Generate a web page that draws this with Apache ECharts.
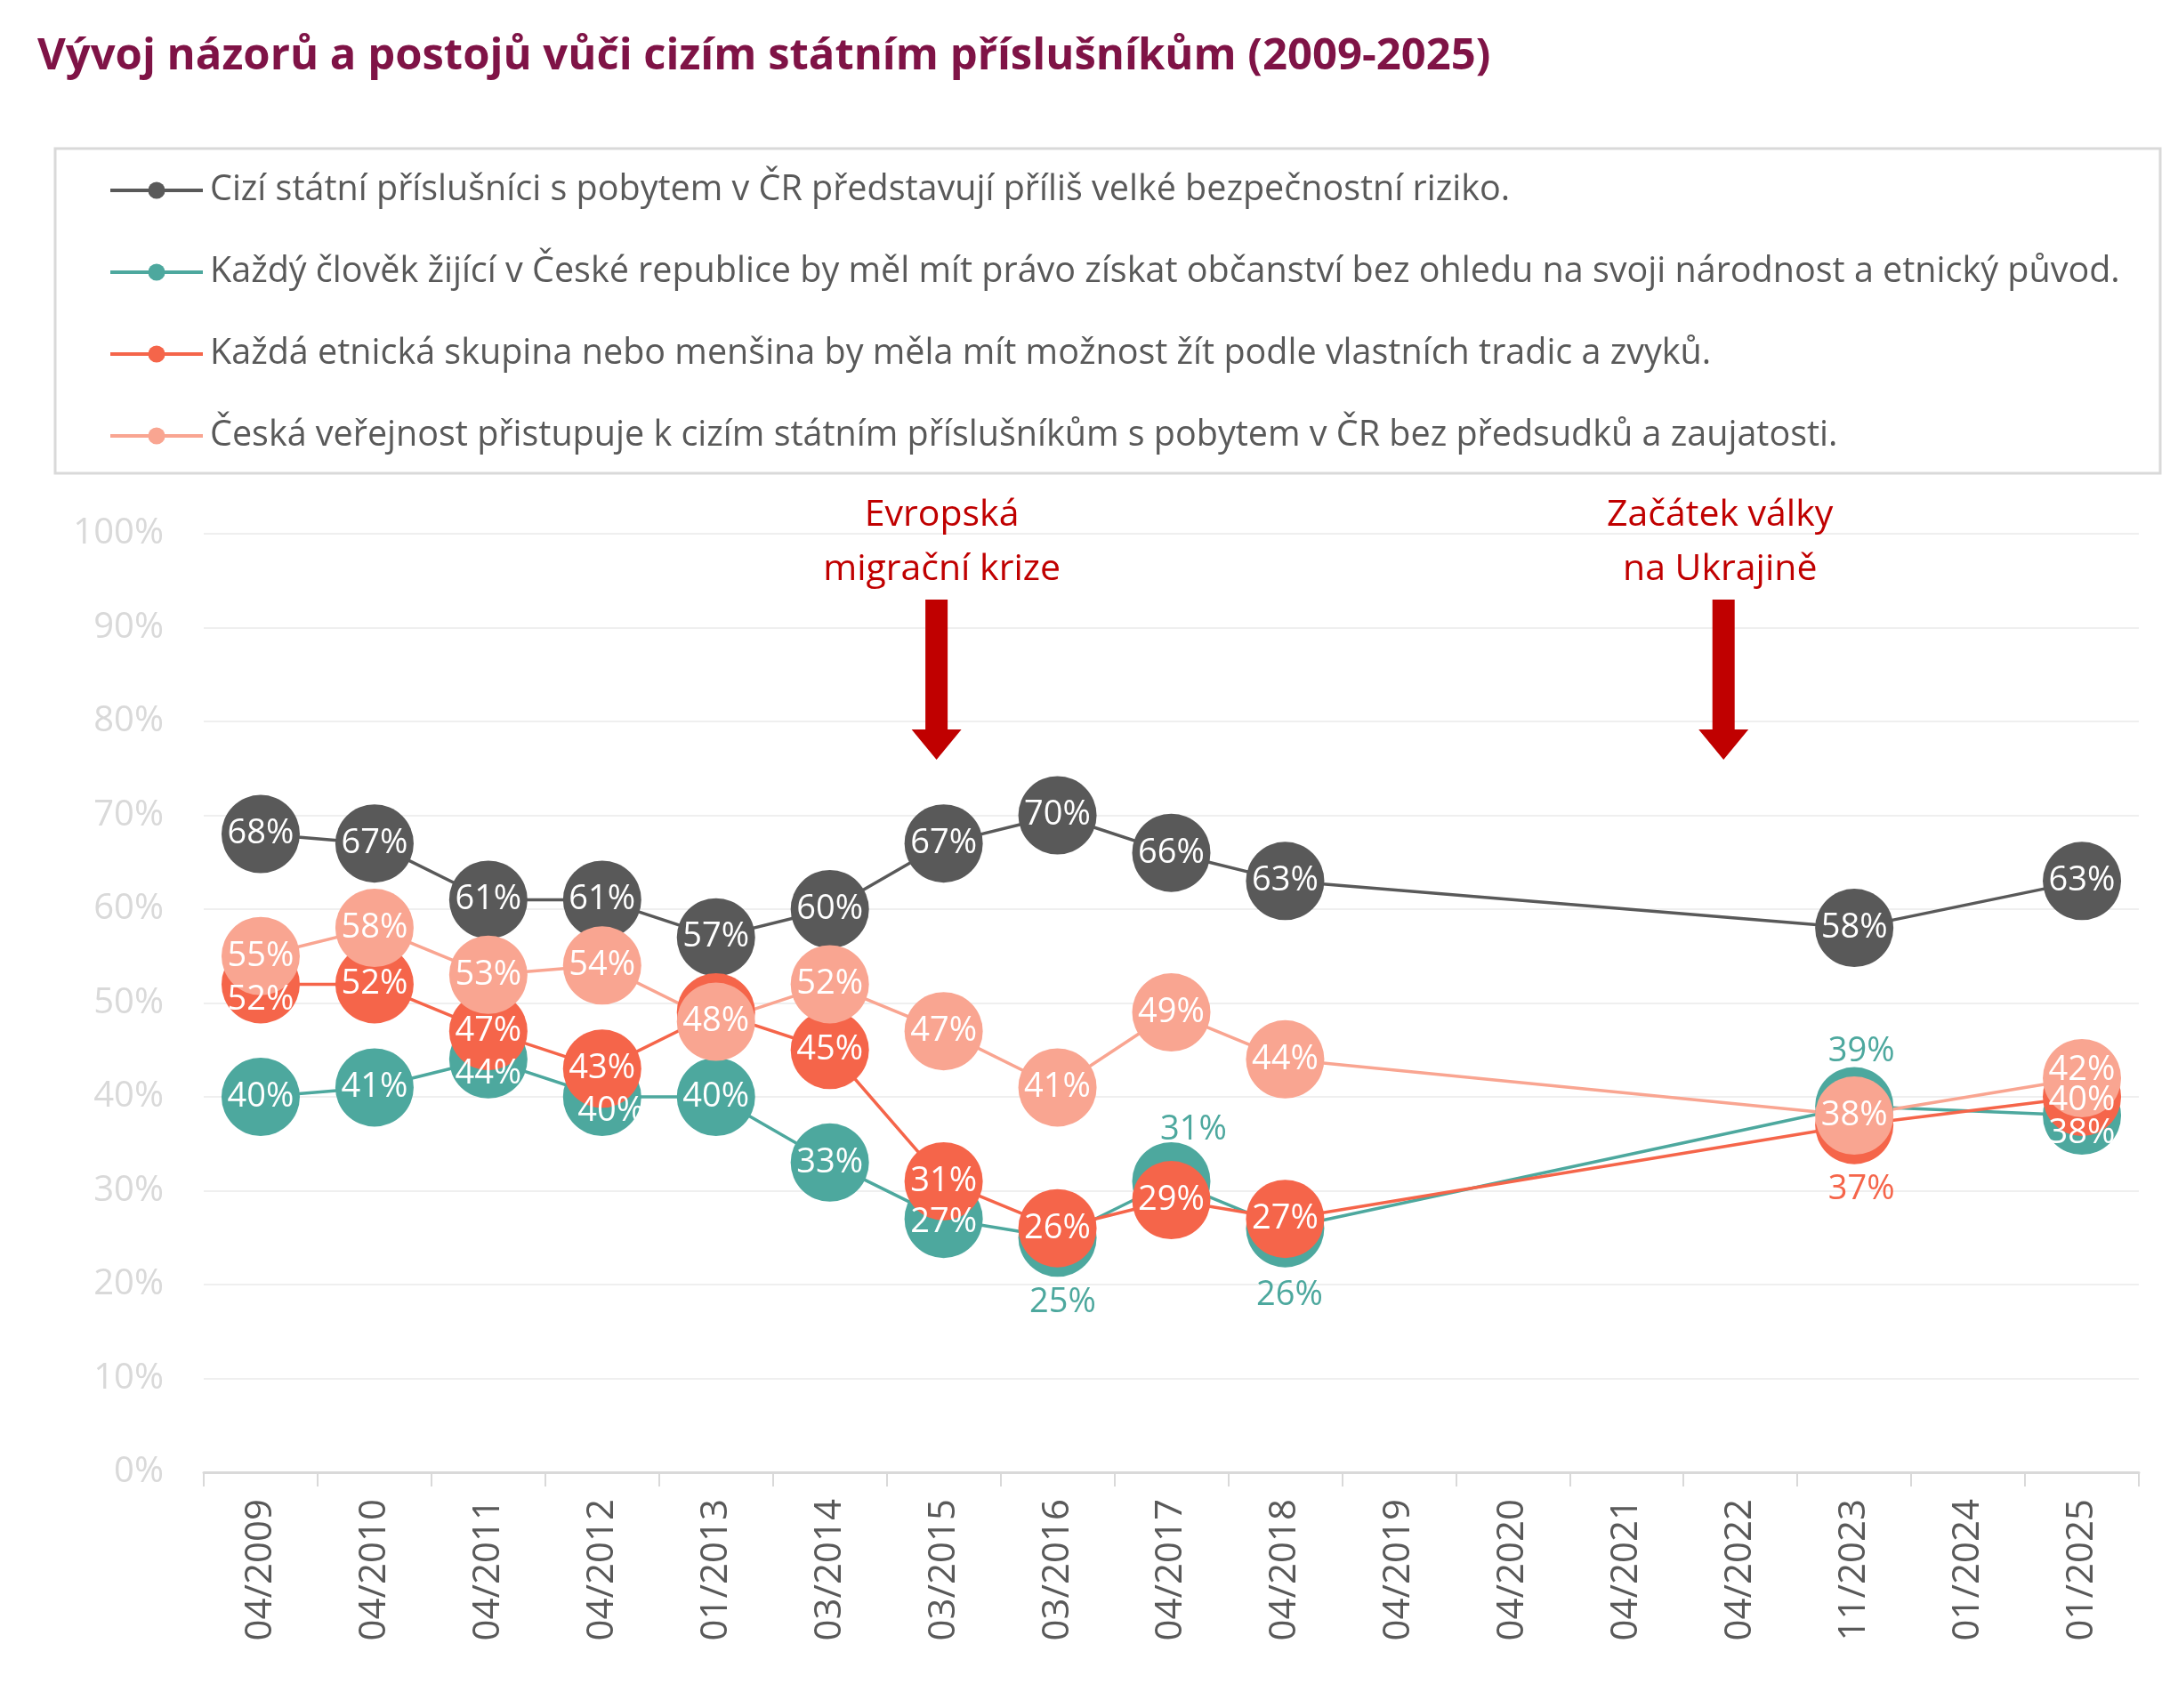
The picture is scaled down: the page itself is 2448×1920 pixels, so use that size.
<!DOCTYPE html>
<html><head><meta charset="utf-8">
<script src="https://cdn.jsdelivr.net/npm/echarts@6/dist/echarts.min.js"></script>
<style>html,body{margin:0;padding:0;background:#fff}#c{width:2448px;height:1920px}</style>
</head><body><div id="c"></div>
<script>
const titleText = 'Vývoj názorů a postojů vůči cizím státním příslušníkům (2009-2025)';
const categories = ['04/2009','04/2010','04/2011','04/2012','01/2013','03/2014','03/2015','03/2016','04/2017','04/2018','04/2019','04/2020','04/2021','04/2022','11/2023','01/2024','01/2025'];
const seriesNames = [
  'Cizí státní příslušníci s pobytem v ČR představují příliš velké bezpečnostní riziko.',
  'Každý člověk žijící v České republice by měl mít právo získat občanství bez ohledu na svoji národnost a etnický původ.',
  'Každá etnická skupina nebo menšina by měla mít možnost žít podle vlastních tradic a zvyků.',
  'Česká veřejnost přistupuje k cizím státním příslušníkům s pobytem v ČR bez předsudků a zaujatosti.'
];
const riziko       = [68,67,61,61,57,60,67,70,66,63,null,null,null,null,58,null,63];
const obcanstvi    = [40,41,44,40,40,33,27,25,31,26,null,null,null,null,39,null,38];
const tradice      = [52,52,47,43,49,45,31,26,29,27,null,null,null,null,37,null,40];
const bezPredsudku = [55,58,53,54,48,52,47,41,49,44,null,null,null,null,38,null,42];
const yTicks = [0,10,20,30,40,50,60,70,80,90,100];
const annotations = [
  {category:'03/2015', lines:['Evropská','migrační krize']},
  {category:'04/2022', lines:['Začátek války','na Ukrajině']}
];

const colors = ['#595959','#4DA89E','#F5654A','#F9A591'];
const FONT = 'Open Sans';

// label adjustments (styling only)
const labelTweaks = {
  1: {2:{offset:[0,16]}, 3:{offset:[10,16]}, 6:{offset:[0,4]},
      7:{offset:[6,73], color:colors[1]}, 8:{offset:[25,-58], color:colors[1]},
      9:{offset:[5,75], color:colors[1]}, 14:{offset:[8,-61], color:colors[1]}, 16:{offset:[0,20]}},
  2: {0:{offset:[0,18]}, 4:{show:false}, 14:{offset:[8,73], color:colors[2]}, 16:{offset:[0,4]}},
  3: {16:{offset:[0,-9]}}
};

const allValues = [riziko, obcanstvi, tradice, bezPredsudku];

const series = allValues.map((vals, si) => ({
  name: seriesNames[si],
  type: 'line',
  connectNulls: true,
  symbol: 'circle',
  symbolSize: 88,
  color: colors[si],
  lineStyle: {width: 3.5, color: colors[si]},
  itemStyle: {color: colors[si]},
  emphasis: {disabled: true},
  label: {
    show: true, position: 'inside', color: '#fff', fontFamily: FONT, fontSize: 38,
    formatter: p => p.value + '%'
  },
  data: vals.map((v, i) => {
    const t = (labelTweaks[si] || {})[i];
    if (v === null) return null;
    if (!t) return v;
    return {value: v, label: Object.assign({}, t)};
  })
}));

const chart = echarts.init(document.getElementById('c'), null, {renderer: 'canvas'});
chart.setOption({
  animation: false,
  backgroundColor: '#fff',
  title: {
    text: titleText, left: 37, top: 28,
    textStyle: {fontFamily: FONT, fontWeight: 'bold', fontSize: 49, color: '#7F1346', lineHeight: 62}
  },
  legend: {
    orient: 'vertical', left: 122, top: 192, padding: 0,
    itemWidth: 104, itemHeight: 24, itemGap: 48,
    data: seriesNames,
    lineStyle: {width: 4},
    textStyle: {fontFamily: FONT, fontSize: 39.5, color: '#595959', lineHeight: 44, padding: [0,0,0,3]},
    selectedMode: false
  },
  grid: {left: 229, right: 44, top: 600, bottom: 265, containLabel: false},
  xAxis: {
    type: 'category', data: categories, boundaryGap: true,
    axisLine: {show: true, lineStyle: {color: '#D9D9D9', width: 3}},
    axisTick: {show: true, length: 16, lineStyle: {color: '#D9D9D9', width: 2}},
    axisLabel: {rotate: 90, margin: 30, fontFamily: FONT, fontSize: 42, color: '#595959', interval: 0}
  },
  yAxis: {
    type: 'value', min: yTicks[0], max: yTicks[yTicks.length-1], interval: yTicks[1]-yTicks[0],
    axisLine: {show: false}, axisTick: {show: false},
    splitLine: {lineStyle: {color: '#EFEFEF', width: 2}},
    axisLabel: {margin: 45, fontFamily: FONT, fontSize: 40, color: '#D9D9D9', formatter: '{value}%'}
  },
  series: series
});

// annotations positioned through the axes
const y100 = chart.convertToPixel({yAxisIndex: 0}, yTicks[yTicks.length-1]);
const arrowOffsets = [-8, -19];
const textOffsets = [-2, -23];
const graphics = [{
  type: 'rect', shape: {x: 62, y: 167, width: 2366, height: 365},
  style: {fill: 'none', stroke: '#D9D9D9', lineWidth: 3}, silent: true
}];
annotations.forEach((a, k) => {
  const cx = chart.convertToPixel({xAxisIndex: 0}, a.category);
  const ax = cx + arrowOffsets[k];
  a.lines.forEach((ln, j) => {
    graphics.push({
      type: 'text', x: cx + textOffsets[k], y: y100 - 21 + j * 61,
      style: {text: ln, fontFamily: FONT, fontSize: 41, fill: '#C00000', align: 'center', verticalAlign: 'middle'}
    });
  });
  const top = y100 + 74, headTop = y100 + 220, bottom = y100 + 254;
  graphics.push({
    type: 'polygon',
    shape: {points: [[ax-12.5, top],[ax+12.5, top],[ax+12.5, headTop],[ax+28, headTop],[ax, bottom],[ax-28, headTop],[ax-12.5, headTop]]},
    style: {fill: '#C00000'}
  });
});
chart.setOption({graphic: graphics});
</script></body></html>
